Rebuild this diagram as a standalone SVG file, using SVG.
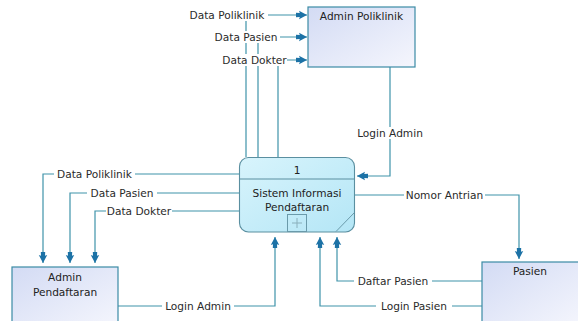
<svg xmlns="http://www.w3.org/2000/svg" width="578" height="321" viewBox="0 0 578 321">
<style>
.lbl{font-family:"DejaVu Sans","Liberation Sans",sans-serif;font-size:10.6px;fill:#2a2a2a;text-anchor:middle}
.ttl{font-family:"DejaVu Sans","Liberation Sans",sans-serif;font-size:10.6px;fill:#222;text-anchor:middle}
.ln{fill:none;stroke:#3f93aa;stroke-width:1.2;marker-end:url(#arr)}
.bg{fill:#fff}
.ext{fill:url(#gExt);stroke:#3b8ba5;stroke-width:1.2}
.prc{fill:url(#gPrc);stroke:#5a8fa0;stroke-width:1.1}
</style>
<defs>
<linearGradient id="gExt" x1="0" y1="0" x2="1" y2="1">
<stop offset="0" stop-color="#d3dbf4"/>
<stop offset="1" stop-color="#f5f6fd"/>
</linearGradient>
<linearGradient id="gPrc" x1="0" y1="0" x2="1" y2="1">
<stop offset="0" stop-color="#d8f4fc"/>
<stop offset="1" stop-color="#b4e6f6"/>
</linearGradient>
<marker id="arr" markerUnits="userSpaceOnUse" markerWidth="13" markerHeight="10" refX="11" refY="5" orient="auto" viewBox="0 0 13 10">
<path d="M11,5 L3,0.8 L3.8,3 L0,2.8 L0,7.2 L3.8,7 L3,9.2 Z" fill="#1c72a6"/>
</marker>
</defs>
<rect width="578" height="321" fill="#fff"/>

<g id="connectors">
<path class="ln" d="M246,157 V15 H307"/>
<path class="ln" d="M258,157 V37 H307"/>
<path class="ln" d="M278,157 V60 H307"/>
<path class="ln" d="M390,67 V176 H357"/>
<path class="ln" d="M239,174 H43 V263"/>
<path class="ln" d="M239,193 H70 V263"/>
<path class="ln" d="M239,211 H95 V263"/>
<path class="ln" d="M118,306 H275 V237"/>
<path class="ln" d="M354,195 H519 V259"/>
<path class="ln" d="M482,281 H337 V237"/>
<path class="ln" d="M482,306 H320 V237"/>
<g id="labels">
<rect class="bg" x="186" y="9" width="82" height="12"/><text class="lbl" x="227" y="19">Data Poliklinik</text>
<rect class="bg" x="212" y="31" width="68" height="12"/><text class="lbl" x="246" y="41">Data Pasien</text>
<rect class="bg" x="222" y="54" width="65" height="12"/><text class="lbl" x="254.5" y="64">Data Dokter</text>
<rect class="bg" x="355" y="127" width="70" height="12"/><text class="lbl" x="390" y="137">Login Admin</text>
<rect class="bg" x="54" y="168" width="81" height="12"/><text class="lbl" x="94.5" y="178">Data Poliklinik</text>
<rect class="bg" x="87" y="187" width="70" height="12"/><text class="lbl" x="122" y="197">Data Pasien</text>
<rect class="bg" x="106" y="205" width="66" height="12"/><text class="lbl" x="139" y="215">Data Dokter</text>
<rect class="bg" x="162" y="300" width="72" height="12"/><text class="lbl" x="198" y="310">Login Admin</text>
<rect class="bg" x="404" y="189" width="81" height="12"/><text class="lbl" x="444.5" y="199">Nomor Antrian</text>
<rect class="bg" x="354" y="275" width="78" height="12"/><text class="lbl" x="393" y="285">Daftar Pasien</text>
<rect class="bg" x="376" y="300" width="76" height="12"/><text class="lbl" x="414" y="310">Login Pasien</text>
</g>
</g>

<g id="admin-poliklinik">
<rect class="ext" x="308" y="7" width="107" height="60"/>
<text class="ttl" x="361.5" y="20">Admin Poliklinik</text>
</g>

<g id="admin-pendaftaran">
<rect class="ext" x="12" y="267" width="106" height="60"/>
<text class="ttl" x="65" y="281">Admin</text>
<text class="ttl" x="65" y="296">Pendaftaran</text>
</g>

<g id="pasien">
<rect class="ext" x="482" y="262" width="100" height="64"/>
<text class="ttl" x="530" y="275">Pasien</text>
</g>

<g id="process-1">
<rect class="prc" x="239.5" y="157.5" width="115" height="74.5" rx="9" ry="9"/>
<line x1="239.5" y1="179" x2="354.5" y2="179" stroke="#5a8fa0" stroke-width="1"/>
<line x1="354" y1="213" x2="336" y2="231.5" stroke="#6a9aaa" stroke-width="1"/>
<rect x="287.5" y="214.5" width="19" height="17" fill="none" stroke="#6a9aaa" stroke-width="1"/>
<path d="M297,218 V228 M292,223 H302" stroke="#8ab0bc" stroke-width="1"/>
<text class="ttl" x="297" y="174">1</text>
<text class="ttl" x="297" y="197">Sistem Informasi</text>
<text class="ttl" x="297" y="211">Pendaftaran</text>
</g>
</svg>
